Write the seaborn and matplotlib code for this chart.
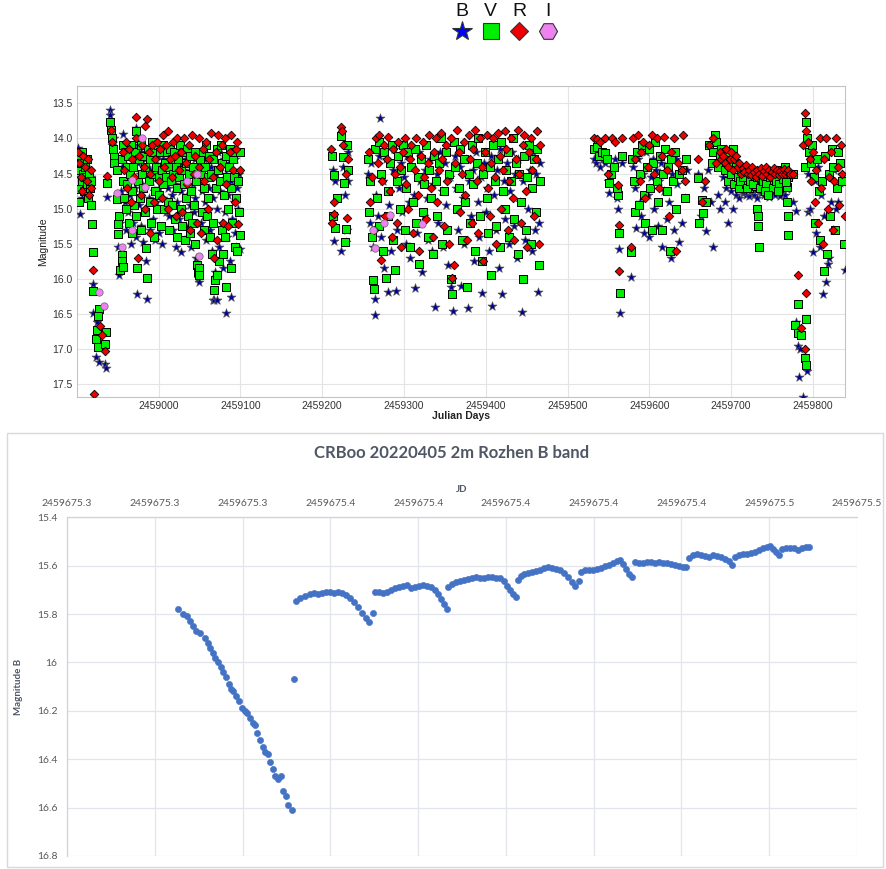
import matplotlib
matplotlib.use("Agg")
import numpy as np
import pandas as pd
import matplotlib.pyplot as plt
import seaborn as sns
from matplotlib.patches import Rectangle
from matplotlib.ticker import FixedLocator, FuncFormatter

## Long-term light curve, JD - 2459000 and magnitude, one list per band and season
JD0 = 2459000

b_s1 = [(-99,14.13),(-98,14.2),(-97,14.45),(-96.5,15.07),(-96,14.7),(-95,14.55),(-94,14.85),(-93,14.62),(-92,14.4),
        (-91,14.3),(-90,14.72),(-89,14.5),(-88,14.33),(-87,14.6),(-86,14.75),(-85,14.45),(-84,14.9),(-83,14.55),
        (-80.4,16.07),(-79.6,16.49),(-74.7,16.61),(-75.5,16.87),(-76.3,17.11),(-72.2,17.18),(-65.3,17.21),(-64.1,17.26),
        (-70,16.95),(-59.2,13.6),(-59,13.66),(-57,14.1),(-63.3,14.83),(-55,14.0),(-48,15.95),(-49,15.54),(-47,15.2),
        (-44,13.94),(-45,14.4),(-46,14.75),(-42,14.3),(-41,14.9),(-40,15.3),(-39,14.6),(-38,14.15),(-37,15.05),(-36,14.45),
        (-35,14.8),(-34,15.5),(-33,14.25),(-32,14.55),(-31,15.2),(-30,14.1),(-29,14.7),(-28,13.85),(-27,15.4),(-26,16.22),
        (-25,14.35),(-24,14.95),(-23,14.5),(-22,15.25),(-21,14.2),(-20,14.65),(-19,15.47),(-18,14.4),(-17,15.0),(-16,14.3),
        (-15,15.75),(-14,16.29),(-13,14.55),(-12,14.85),(-11,15.3),(-10,14.45),(-9,14.6),(-8,14.15),(-7,15.15),(-6,14.75),
        (-5,14.35),(-4,15.45),(-3,14.9),(-2,14.5),(-1,14.25),(0,14.7),(1,15.35),(2,14.4),(3,14.6),(4,15.5),(5,14.3),
        (6,14.85),(7,14.5),(8,14.2),(9,15.05),(10,14.35),(11,14.7),(12,14.4),(13,15.1),(14,14.55),(15,14.25),(16,14.8),
        (17,14.45),(18,15.3),(19,14.3),(20,14.65),(21,15.55),(22,14.4),(23,14.9),(24,14.2),(25,15.15),(26,14.5),(27,15.62),
        (28,14.75),(29,14.35),(30,15.0),(31,14.45),(32,14.6),(33,15.25),(34,14.3),(35,14.8),(36,15.4),(37,14.5),(38,14.2),
        (39,14.95),(40,15.55),(41,14.4),(42,14.65),(43,15.05),(44,14.3),(45,14.85),(46,15.7),(47,14.5),(48,15.98),
        (49,16.05),(50,14.6),(51,14.35),(52,15.2),(53,14.75),(54,14.45),(55,15.1),(56,14.3),(57,14.9),(58,15.45),
        (59,14.55),(60,14.25),(61,15.0),(62,14.7),(63,15.3),(64,14.4),(65,15.6),(66,14.85),(67,16.3),(68,16.3),(69,15.9),
        (70,14.5),(71,16.3),(72,15.0),(73,14.2),(74,15.55),(75,14.75),(76,14.4),(77,15.2),(78,14.6),(79,15.85),(80,14.3),
        (81,15.05),(82,16.48),(83,14.5),(84,15.4),(85,14.8),(86,14.35),(87,15.75),(88,16.25),(89,14.6),(90,15.15),
        (91,14.45),(92,14.9),(93,15.35),(94,14.3),(95,15.55),(96,14.7),(97,15.0),(98,14.5),(99,15.57)]
b_s2 = [(213,14.45),(216,14.6),(215,15.46),(223,15.6),(226,14.4),(228,14.8),(229,15.47),(230,15.3),(231,14.2),(232,14.6),
        (256,14.5),(258,15.2),(260,14.35),(262,15.55),(264,16.28),(265,16.51),(266,14.8),(268,15.1),(270,14.25),(271,13.71),
        (272,15.4),(274,14.6),(276,15.85),(278,14.3),(280,16.19),(282,14.95),(284,15.6),(286,14.45),(288,14.15),(290,16.17),
        (292,15.3),(294,14.7),(296,14.35),(298,15.05),(300,14.55),(302,15.5),(304,14.25),(306,14.9),(308,15.7),(310,14.4),
        (312,14.8),(314,16.13),(316,15.35),(318,14.2),(320,14.6),(322,15.9),(324,15.1),(326,14.45),(328,14.85),(330,15.45),
        (332,14.3),(334,15.6),(336,14.65),(338,16.4),(340,14.5),(342,15.2),(344,14.2),(346,14.75),(348,15.55),(350,14.35),
        (352,14.95),(354,15.8),(356,14.55),(358,16.12),(360,16.45),(362,14.25),(364,14.7),(366,15.3),(368,14.4),(370,16.1),
        (372,14.85),(374,15.5),(376,14.3),(378,16.41),(380,14.6),(382,15.1),(384,14.45),(386,15.75),(388,14.2),(390,14.9),
        (392,15.4),(394,14.55),(396,16.2),(398,14.35),(400,15.05),(402,14.7),(404,15.6),(406,14.25),(408,16.38),(410,14.8),
        (412,15.3),(414,14.45),(416,15.85),(418,14.15),(420,16.22),(422,14.6),(424,15.15),(426,14.35),(428,15.5),(430,14.75),
        (432,14.2),(434,15.25),(436,14.5),(438,15.7),(440,14.3),(442,14.9),(444,16.47),(446,14.6),(448,15.45),(450,14.25),
        (452,15.0),(454,14.45),(456,15.6),(458,14.2),(460,15.3),(462,14.5),(464,16.19),(466,14.35),(465,15.2)]
b_s3 = [(532,14.3),(535,14.35),(537,14.26),(540,14.4),(543,14.3),(546,14.35),(549,14.6),(551,14.77),(554,14.4),(558,14.3),
        (562,15.0),(563,15.58),(563.5,16.48),(560,14.85),(566,14.35),(578,15.97),(580,14.4),(582,14.7),(584,15.28),
        (586,14.3),(588,14.9),(590,15.1),(592,14.5),(594,15.35),(596,14.2),(598,14.8),(600,15.4),(602,14.55),(604,14.3),
        (606,15.0),(608,14.45),(610,15.25),(612,14.6),(614,14.35),(616,15.55),(618,14.75),(620,14.4),(622,15.15),(624,14.9),
        (626,15.7),(628,14.5),(630,15.3),(632,14.3),(634,14.65),(636,15.48),(640,15.2),(643,14.85),(646,14.45),(660,14.5),
        (663,15.1),(667,14.7),(669,15.32),(672,14.45),(675,14.9),(678,15.55),(681,14.2),(684,14.8),(686,15.0),(690,14.55),
        (692,14.9),(694,14.7),(696,15.2),(698,14.5),(700,14.75),(702,15.0),(704,14.65),(706,14.8),(708,14.6),(710,14.85),
        (712,14.72),(714,14.78),(716,14.65),(718,14.8),(720,14.7),(722,14.82),(724,14.75),(726,14.68),(728,14.8),
        (730,14.73),(732,14.85),(734,14.7),(736,14.78),(738,14.65),(740,14.8),(742,14.72),(744,14.76),(746,14.83),
        (748,14.7),(750,14.78),(752,14.66),(754,14.8),(756,14.74),(758,14.7),(760,14.82),(762,14.75),(764,14.68),(766,14.8),
        (768,14.72),(770,14.6),(776,14.9),(779.6,15.03),(779.6,16.61),(781.6,16.96),(782.4,17.39),(783.7,16.99),
        (787.8,17.68),(793,17.31),(793.9,15.05),(794,14.5),(796,15.0),(798,14.3),(800,15.61),(802,14.6),(804,15.35),
        (806,14.4),(808,15.55),(810,14.8),(812.2,16.22),(814,15.1),(816.3,16.04),(818.4,15.78),(820,15.7),(822,14.9),
        (824.5,15.3),(826,14.45),(828,15.0),(830.6,14.9),(832.7,14.64),(835,14.5),(838.8,15.87)]

v_s1 = [(-99,14.3),(-98,14.72),(-97,14.9),(-96,14.45),(-95,14.35),(-94,14.6),(-93,14.2),(-92,14.5),(-91,14.75),(-90,14.4),
        (-89,14.55),(-88,14.3),(-87,14.65),(-86,14.85),(-85,14.5),(-84,14.7),(-83,14.95),(-82,14.6),(-81.6,15.22),
        (-80.4,15.61),(-79.6,16.17),(-72.7,16.43),(-73.5,16.52),(-75.5,16.72),(-76.3,16.85),(-73.5,16.97),(-64.5,16.75),
        (-65.3,16.92),(-59.2,13.76),(-58.4,13.88),(-57.1,14.0),(-56,14.15),(-55,14.26),(-54,14.35),(-51,14.45),
        (-63.3,14.64),(-51.2,14.86),(-47.8,15.11),(-49.8,15.22),(-49,15.36),(-44.5,15.66),(-44.5,15.75),(-46.5,15.87),
        (-43.5,15.83),(-44,14.1),(-45,14.3),(-43,14.6),(-42,14.85),(-41,14.2),(-40,15.0),(-39,14.4),(-38,14.65),(-37,14.25),
        (-36,15.2),(-35,14.5),(-34,14.1),(-33,14.75),(-32,15.35),(-31,14.4),(-30,14.95),(-29,14.2),(-28,13.9),(-27,15.1),
        (-26,15.85),(-25,14.6),(-24,14.3),(-23,14.85),(-22,14.1),(-21,15.3),(-20,14.5),(-19,14.7),(-18,14.25),(-17,15.05),
        (-16,14.4),(-15,15.56),(-14,15.98),(-13,14.15),(-12,14.6),(-11,14.9),(-10,14.3),(-9,15.2),(-8,14.05),(-7,14.5),
        (-6,15.4),(-5,14.2),(-4,14.75),(-3,14.4),(-2,15.0),(-1,14.1),(0,14.55),(1,14.8),(2,14.2),(3,15.25),(4,14.45),
        (5,14.65),(6,14.1),(7,15.0),(8,14.35),(9,14.55),(10,14.2),(11,14.9),(12,14.4),(13,15.3),(14,14.15),(15,14.6),
        (16,14.3),(17,14.95),(18,14.5),(19,14.2),(20,15.15),(21,14.4),(22,14.7),(23,15.4),(24,14.3),(25,14.55),(26,14.1),
        (27,15.0),(28,14.45),(29,15.25),(30,14.2),(31,14.65),(32,15.45),(33,14.35),(34,14.85),(35,14.15),(36,15.1),
        (37,14.5),(38,15.35),(39,14.25),(40,14.75),(41,15.2),(42,14.4),(43,14.95),(44,14.2),(45,15.5),(46,14.6),(47,15.8),
        (48,15.9),(49,15.85),(50,15.95),(51,14.3),(52,14.5),(53,15.05),(54,14.2),(55,14.7),(56,15.3),(57,14.4),(58,14.1),
        (59,15.1),(60,14.55),(61,14.85),(62,14.25),(63,15.4),(64,14.5),(65,15.65),(66,14.3),(67,15.2),(68,16.15),
        (69,16.02),(70,14.7),(71,15.95),(72,14.15),(73,14.45),(74,15.75),(75,14.6),(76,14.1),(77,15.3),(78,14.35),
        (79,15.65),(80,14.8),(81,15.4),(82,16.12),(83,14.25),(84,14.55),(85,15.0),(86,14.4),(87,14.15),(88,15.85),(89,14.7),
        (90,15.2),(91,14.3),(92,14.55),(93,15.55),(94,14.2),(95,14.85),(96,15.6),(97,14.6),(98,15.05),(99,14.2),(100,15.38)]
v_s2 = [(212,14.25),(214,14.52),(213,15.1),(216,15.27),(218,14.85),(223,13.97),(225,14.27),(227,14.64),(229,15.29),
        (228,15.47),(230,14.1),(231,14.45),(256,14.3),(257,15.05),(259,14.6),(261,15.4),(262,16.01),(263,16.14),(265,14.15),
        (267,14.85),(269,15.25),(270,14.05),(272,14.5),(274,15.6),(276,14.2),(278,15.99),(280,14.75),(281,15.1),(283,14.35),
        (285,14.1),(287,15.45),(289,15.87),(291,14.6),(293,14.25),(295,15.0),(297,14.45),(299,14.1),(301,15.3),(303,14.7),
        (305,14.2),(307,15.55),(309,14.4),(311,14.9),(313,14.15),(315,15.2),(317,14.55),(319,15.78),(321,14.3),(323,15.05),
        (325,14.65),(327,14.1),(329,15.4),(331,14.45),(333,14.85),(335,15.65),(337,14.25),(339,14.6),(341,15.1),(343,14.35),
        (345,14.0),(347,15.5),(349,14.75),(351,14.2),(353,15.3),(355,14.5),(357,16.0),(359,16.22),(361,14.05),(363,14.4),
        (365,15.0),(367,14.7),(369,14.15),(371,15.45),(373,14.3),(375,14.9),(377,16.11),(379,14.5),(381,15.2),(383,14.1),
        (385,14.65),(387,15.6),(389,14.35),(391,14.0),(393,15.1),(395,15.75),(397,14.5),(399,14.2),(401,14.85),(403,15.35),
        (405,14.4),(407,15.95),(409,14.1),(411,14.6),(413,15.25),(415,14.3),(417,15.55),(419,14.05),(421,14.75),(423,15.0),
        (425,14.45),(427,14.2),(429,15.4),(431,14.6),(433,14.0),(435,15.15),(437,14.35),(439,15.65),(441,14.5),(443,14.9),
        (445,16.0),(447,14.25),(449,15.3),(451,14.55),(453,14.1),(455,15.5),(457,14.7),(459,14.3),(461,15.05),(463,14.15),
        (465,15.8),(466,14.6)]
v_s3 = [(532,14.15),(536,14.12),(539,14.25),(542,14.2),(546,14.21),(548,14.3),(551,14.64),(553,14.5),(557,14.4),
        (562,14.81),(563,15.35),(563.5,16.2),(561,14.7),(566,14.25),(578,15.62),(579,14.3),(581,14.6),(583,15.05),
        (585,14.2),(587,14.95),(589,14.5),(591,14.1),(593,14.8),(595,15.2),(597,14.4),(599,14.15),(601,14.7),(603,15.3),
        (605,14.35),(607,14.05),(609,14.6),(611,14.9),(613,14.25),(615,15.3),(617,14.5),(619,14.15),(621,14.75),(623,14.4),
        (625,15.6),(627,14.3),(629,14.6),(631,14.2),(633,15.0),(636,14.5),(640,14.45),(643,14.85),(645,14.3),(659,14.57),
        (661,15.2),(664,14.88),(666,15.06),(669,14.9),(673,14.1),(676,14.35),(678,14.2),(680,13.95),(682,14.05),(684,14.4),
        (686,14.25),(688,14.15),(690,14.3),(692,14.45),(694,14.2),(696,14.6),(698,14.35),(700,14.5),(702,14.15),(704,14.65),
        (706,14.4),(708,14.55),(710,14.7),(712,14.45),(714,14.6),(716,14.5),(718,14.65),(720,14.55),(722,14.7),(724,14.48),
        (726,14.62),(728,14.55),(730,14.68),(732,15.0),(732.5,15.1),(733,15.25),(733.5,15.54),(734,14.6),(736,14.5),
        (738,14.65),(740,14.58),(742,14.7),(744,14.52),(746,14.6),(748,14.66),(750,14.5),(752,14.62),(754,14.55),
        (756,14.68),(758,14.45),(760,14.58),(762,14.5),(764,14.65),(766,14.4),(768,14.69),(768.5,14.9),(769,15.1),
        (769.5,15.37),(770,14.55),(711,14.6),(715,14.55),(719,14.7),(723,14.6),(727,14.65),(731,14.55),(735,14.7),
        (739,14.6),(743,14.65),(747,14.55),(751,14.7),(755,14.6),(759,14.65),(763,14.58),(767,14.62),(741,14.75),
        (745,14.8),(757,14.75),
        (776,14.5),(777.6,16.66),(781.6,16.35),(781.6,16.77),(785,16.8),(789.8,17.12),
        (791,17.22),(791.8,16.57),(790,14.4),(792,13.77),(793,14.0),(795,14.2),(797,14.35),(799,14.1),(801,14.55),
        (803,15.2),(805,14.3),(807,14.75),(809,15.45),(811,14.6),(813,15.89),(815,14.25),(817,15.65),(819,14.5),(821,15.1),
        (823,14.15),(825,14.4),(827,15.3),(829,14.7),(831,14.2),(833,14.35),(836,14.6),(838,15.5)]

r_s1 = [(-99,14.2),(-97,14.35),(-95,14.55),(-94,14.75),(-92,14.25),(-90,14.4),(-88,14.6),(-86,14.3),(-85,14.8),(-83,14.45),
        (-82,14.7),(-80.4,15.87),(-71.4,16.67),(-69.4,16.8),(-65.3,17.03),(-78.8,17.63),(-58,13.88),(-56.8,14.05),
        (-63.3,14.53),(-44,14.2),(-42,14.45),(-40,14.05),(-38,14.7),(-36,14.15),(-34,14.9),(-32,14.3),(-30,14.55),
        (-28,13.7),(-27,14.0),(-25.3,15.7),(-24,14.25),(-22,14.8),(-20,14.1),(-18,14.4),(-16,15.0),(-14.3,13.72),
        (-16,13.82),(-12,14.2),(-11,15.35),(-10,14.5),(-8,14.1),(-6,14.9),(-4,14.3),(-2,14.05),(0,14.6),(2,14.15),(4,14.85),
        (5,13.95),(7,14.4),(9,14.1),(11,15.0),(12,13.9),(14,14.3),(16,14.55),(18,14.05),(20,14.25),(21,15.1),(23,14.0),
        (25,14.45),(27,14.2),(29,15.05),(31,14.0),(33,14.35),(35,14.65),(37,14.1),(39,15.3),(41,13.95),(43,14.5),(45,14.25),
        (47,15.2),(49,14.4),(50,14.0),(52,15.35),(54,14.15),(56,14.6),(58,14.05),(60,15.0),(62,14.3),(64,13.92),(66,14.55),
        (68,15.7),(70,14.2),(72,15.45),(73,13.95),(75,14.4),(77,14.1),(79,15.2),(81,14.0),(83,14.65),(85,15.25),(87,14.2),
        (89,13.95),(91,14.45),(93,14.9),(95,14.15),(97,15.22),(99,14.45),(96,14.05)]
r_s2 = [(211,14.15),(214,14.91),(215,15.07),(212,15.2),(223,13.84),(224,13.9),(226,14.1),(229,14.5),(230,15.13),(231,14.3),
        (257,14.2),(259,14.9),(261,14.55),(263,15.3),(266,14.0),(268,14.35),(270,13.95),(272,15.73),(273,14.6),(275,14.1),
        (277,15.1),(279,14.3),(281,13.98),(283,14.75),(285,15.4),(287,14.15),(289,14.5),(291,15.2),(293,14.05),(295,14.4),
        (297,15.55),(299,14.2),(301,14.0),(303,14.65),(305,15.0),(307,14.3),(309,14.1),(311,15.35),(313,14.45),(315,14.0),
        (317,14.8),(319,15.6),(321,14.25),(323,14.05),(325,14.55),(327,15.15),(329,14.35),(331,13.95),(333,14.7),(335,15.4),
        (337,14.2),(339,14.0),(341,14.9),(343,14.45),(345,13.92),(347,14.3),(349,15.25),(351,14.1),(353,14.6),(355,15.5),
        (357,14.0),(359,15.98),(361,15.8),(363,14.35),(365,13.88),(367,14.2),(369,15.05),(371,14.5),(373,14.05),(375,14.8),
        (377,15.45),(379,13.95),(381,14.3),(383,15.2),(385,14.15),(387,13.88),(389,14.6),(391,15.35),(393,14.0),(395,14.4),
        (397,15.75),(399,14.2),(401,13.95),(403,14.7),(405,15.1),(407,14.35),(409,14.0),(411,14.55),(413,15.5),(415,13.92),
        (417,14.25),(419,15.0),(421,14.45),(423,13.9),(425,14.15),(427,15.3),(429,14.6),(431,14.0),(433,14.85),(435,15.45),
        (437,14.3),(439,13.88),(441,14.5),(443,15.2),(445,14.1),(447,13.95),(449,14.75),(451,15.55),(453,14.2),(455,14.0),
        (457,14.45),(459,15.1),(461,14.3),(463,13.9),(465,15.5),(466,14.1)]
r_s3 = [(532,14.0),(536,14.01),(540,14.05),(546,14.0),(550,14.51),(554,14.0),(558,14.05),(562,14.67),(563,15.23),
        (562.5,15.88),(566,14.0),(578,15.55),(580,14.0),(583,14.3),(586,13.95),(588,14.6),(590,14.2),(592,14.05),(595,14.85),
        (598,14.4),(600,14.1),(603,13.95),(606,14.5),(609,14.0),(612,14.7),(615,14.25),(618,13.98),(621,14.45),(624,15.1),
        (627,14.2),(630,14.0),(632,15.6),(635,14.35),(640,14.45),(644,14.6),(641,13.95),(660,14.3),(664,14.9),(668,14.6),
        (673,14.1),(678,14.0),(682,14.35),(686,14.2),(688,14.3),(690,14.25),(692,14.35),(694,14.15),(696,14.4),(698,14.3),
        (700,14.2),(702,14.45),(704,14.3),(706,14.25),(708,14.4),(710,14.35),(712,14.5),(714,14.42),(716,14.48),(718,14.38),
        (720,14.5),(722,14.45),(724,14.52),(726,14.4),(728,14.48),(730,14.55),(732,14.45),(734,14.5),(736,14.42),
        (738,14.53),(740,14.47),(742,14.4),(744,14.5),(746,14.45),(748,14.55),(750,14.48),(752,14.42),(754,14.5),
        (756,14.45),(758,14.52),(760,14.47),(762,14.5),(764,14.44),(766,14.5),(768,14.48),(770,14.45),(772,14.5),
        (776,14.5),(781.6,15.94),(791.8,16.2),(785.7,16.7),(789.8,17.0),(788,14.1),(790,13.64),(792,13.9),(794,14.05),
        (796,14.3),(798,14.6),(800,14.2),(802,14.9),(804,14.45),(806,15.2),(808,14.0),(810,14.7),(812,15.5),(814,14.3),
        (816,14.0),(818,15.0),(820,14.55),(822,14.2),(824,15.3),(826,14.6),(828,14.0),(830,14.4),(832,14.95),(834,14.1),
        (836,14.5),(839,15.1)]

i_all = [(-72.7,16.18),(-66.5,16.38),(-51.2,14.78),(-45,15.55),(-32.7,14.59),(-32.7,15.3),(-20,14.0),(-16,14.69),
         (35,14.6),(47,14.5),(49,15.68),(262,15.3),(265,15.56),(275,15.2),(283,15.09),(322,15.22)]

## One night on the 2m Rozhen telescope, B band: JD - 2459675 and magnitude
NIGHT0 = 2459675
night_fall = [(0.3254,15.78),(0.3265,15.80),(0.3273,15.81),(0.3280,15.83),(0.3288,15.85),(0.3295,15.87),(0.3303,15.88),
              (0.3314,15.90),(0.3322,15.92),(0.3326,15.94),(0.3332,15.96),(0.3337,15.98),(0.3345,16.00),(0.3351,16.02),
              (0.3356,16.04),(0.3362,16.06),(0.3369,16.09),(0.3374,16.11),(0.3379,16.12),(0.3385,16.14),(0.3392,16.16),
              (0.3398,16.19),(0.3406,16.20),(0.3411,16.21),(0.3417,16.23),(0.3423,16.25),(0.3428,16.26),(0.3434,16.29),
              (0.3440,16.32),(0.3446,16.35),(0.3451,16.37),(0.3457,16.38),(0.3462,16.41),(0.3470,16.44),(0.3475,16.47),
              (0.3481,16.48),(0.3487,16.47),(0.3493,16.53),(0.3499,16.55),(0.3504,16.59),(0.3512,16.61),(0.3517,16.07)]
night_high = [(0.3521,15.745),(0.3531,15.733),(0.3542,15.725),(0.3554,15.717),(0.3563,15.713),(0.3572,15.717),
              (0.3581,15.715),(0.3590,15.709),(0.3599,15.709),(0.3608,15.711),(0.3617,15.709),(0.3626,15.713),
              (0.3636,15.721),(0.3645,15.733),(0.3654,15.750),(0.3663,15.771),(0.3672,15.795),(0.3681,15.816),
              (0.3688,15.833),(0.3697,15.795),
              (0.3702,15.709),(0.3711,15.709),(0.3720,15.713),(0.3729,15.709),(0.3738,15.700),(0.3747,15.692),
              (0.3756,15.688),(0.3765,15.684),(0.3775,15.680),(0.3784,15.692),(0.3793,15.688),(0.3802,15.684),
              (0.3811,15.680),(0.3820,15.684),(0.3829,15.688),(0.3838,15.700),(0.3845,15.717),(0.3852,15.738),
              (0.3859,15.758),(0.3866,15.779),
              (0.3868,15.688),(0.3877,15.676),(0.3886,15.667),(0.3895,15.663),(0.3904,15.659),(0.3913,15.655),
              (0.3923,15.651),(0.3932,15.647),(0.3941,15.649),(0.3950,15.651),(0.3959,15.647),(0.3968,15.647),
              (0.3977,15.649),(0.3986,15.651),(0.3995,15.663),(0.4002,15.684),(0.4009,15.700),(0.4016,15.717),
              (0.4023,15.729),
              (0.4027,15.659),(0.4034,15.642),(0.4041,15.634),(0.4050,15.630),(0.4059,15.626),(0.4068,15.622),
              (0.4077,15.618),(0.4086,15.609),(0.4096,15.605),(0.4105,15.609),(0.4114,15.614),(0.4123,15.618),
              (0.4132,15.630),(0.4141,15.647),(0.4150,15.667),(0.4157,15.684),(0.4166,15.663),
              (0.4171,15.626),(0.4180,15.618),(0.4189,15.616),(0.4198,15.616),(0.4207,15.614),(0.4216,15.609),
              (0.4226,15.601),(0.4235,15.597),(0.4244,15.589),(0.4253,15.580),(0.4260,15.576),(0.4267,15.593),
              (0.4273,15.614),(0.4280,15.634),(0.4287,15.647),
              (0.4294,15.585),(0.4303,15.589),(0.4312,15.589),(0.4321,15.585),(0.4330,15.585),(0.4339,15.587),
              (0.4349,15.585),(0.4358,15.589),(0.4367,15.591),(0.4376,15.593),(0.4385,15.597),(0.4394,15.601),
              (0.4403,15.605),(0.4410,15.607),
              (0.4417,15.568),(0.4426,15.556),(0.4435,15.552),(0.4444,15.556),(0.4453,15.560),(0.4462,15.565),
              (0.4472,15.556),(0.4481,15.560),(0.4490,15.565),(0.4499,15.573),(0.4508,15.581),(0.4515,15.597),
              (0.4522,15.564),(0.4531,15.556),(0.4540,15.550),(0.4549,15.552),(0.4558,15.548),(0.4567,15.543),
              (0.4576,15.535),(0.4585,15.529),(0.4595,15.523),(0.4601,15.519),(0.4608,15.531),(0.4615,15.543),
              (0.4622,15.556),(0.4629,15.531),(0.4638,15.527),(0.4647,15.527),(0.4656,15.529),(0.4665,15.535),
              (0.4674,15.527),(0.4683,15.523),(0.4690,15.523)]


def band_frame(rows):
    df = pd.DataFrame(rows, columns=["jd", "mag"])
    df["jd"] = df["jd"] + JD0
    return df

df_b = band_frame(b_s1 + b_s2 + b_s3)
df_v = band_frame(v_s1 + v_s2 + v_s3)
df_r = band_frame(r_s1 + r_s2 + r_s3)
df_i = band_frame(i_all)

night = pd.DataFrame(night_fall + night_high, columns=["jd", "mag"])
night["jd"] = night["jd"] + NIGHT0

sns.set_style("white")
plt.rcParams["font.family"] = ["Liberation Sans", "DejaVu Sans"]

fig = plt.figure(figsize=(8.86, 8.69), dpi=100)

## ---- top: long term light curve ----
ax = fig.add_axes([0.0866, 0.5431, 0.867, 0.3583])
sns.scatterplot(data=df_b, x="jd", y="mag", marker="*", s=46, color="#00009a", edgecolor="#555555",
                linewidth=0.5, ax=ax, zorder=3)
sns.scatterplot(data=df_v, x="jd", y="mag", marker="s", s=29, color="#00ee00", edgecolor="black",
                linewidth=0.7, ax=ax, zorder=4)
sns.scatterplot(data=df_r, x="jd", y="mag", marker="D", s=19, color="#ee0000", edgecolor="black",
                linewidth=0.6, ax=ax, zorder=5)
sns.scatterplot(data=df_i, x="jd", y="mag", marker="o", s=28, color="#ee82ee", edgecolor="#666666",
                linewidth=0.5, ax=ax, zorder=6)

ax.set_xlim(JD0 - 100, JD0 + 839)
ax.set_ylim(17.68, 13.25)
ax.xaxis.set_major_locator(FixedLocator(np.arange(JD0, JD0 + 801, 100)))
ax.xaxis.set_major_formatter(FuncFormatter(lambda v, p: "%d" % round(v)))
ax.yaxis.set_major_locator(FixedLocator(np.arange(13.5, 17.51, 0.5)))
ax.yaxis.set_major_formatter(FuncFormatter(lambda v, p: "%.1f" % v))
ax.grid(True, color="#e4e4e4", linewidth=0.8)
ax.set_axisbelow(True)
for sp in ax.spines.values():
    sp.set_color("#c4c4c4")
    sp.set_linewidth(0.8)
ax.tick_params(length=0, labelsize=7.5, colors="#333333", pad=3)
ax.set_xlabel("Julian Days", fontsize=7.5, fontweight="bold", labelpad=0, color="#222222")
ax.set_ylabel("Magnitude", fontsize=7.5, labelpad=3, color="#222222")

## legend row above the chart
lax = fig.add_axes([447.6 / 886, 1 - 44 / 869, 114.8 / 886, 44 / 869])
lax.set_xlim(0, 4)
lax.set_ylim(0, 1)
lax.axis("off")
legend_items = [("B", "*", "#0000ff", 15), ("V", "s", "#00ee00", 12), ("R", "D", "#ee0000", 9.5), ("I", "H", "#ee82ee", 13)]
for k, (lab, mk, col, ms) in enumerate(legend_items):
    lax.plot(k + 0.5, 0.3, marker=mk, markersize=ms, color=col, markeredgecolor="#333333", markeredgewidth=0.8)
    lax.text(k + 0.5, 0.74, lab, ha="center", va="center", fontsize=14, color="#111111")

## ---- bottom: single night B band ----
fig.add_artist(Rectangle((7 / 886, 2 / 869), 876 / 886, 434 / 869, transform=fig.transFigure,
                         fill=False, edgecolor="#d9d9d9", linewidth=1))
fig.text(451.7 / 886, 1 - 453 / 869, "CRBoo 20220405 2m Rozhen B band", ha="center", va="center",
         fontsize=12, fontweight="bold", color="#4f5766", family=["Lato", "DejaVu Sans"])

ax2 = fig.add_axes([0.0756, 0.01496, 0.8917, 0.3898])
sns.scatterplot(data=night, x="jd", y="mag", s=20, color="#4472c4", edgecolor="#4472c4", linewidth=0.4,
                ax=ax2, zorder=3)
ax2.set_xlim(NIGHT0 + 0.30, NIGHT0 + 0.48)
ax2.set_ylim(16.8, 15.4)
ax2.xaxis.tick_top()
ax2.xaxis.set_label_position("top")
ax2.xaxis.set_major_locator(FixedLocator(NIGHT0 + np.arange(0.30, 0.481, 0.02)))
ax2.xaxis.set_major_formatter(FuncFormatter(lambda v, p: "%.1f" % v))
ax2.yaxis.set_major_locator(FixedLocator(np.arange(15.4, 16.81, 0.2)))
ax2.yaxis.set_major_formatter(FuncFormatter(lambda v, p: ("%.1f" % v).rstrip("0").rstrip(".")))
ax2.grid(True, color="#e3e5ec", linewidth=0.9)
ax2.set_axisbelow(True)
for name, sp in ax2.spines.items():
    sp.set_visible(name in ("left", "top"))
    sp.set_color("#d0d3da")
    sp.set_linewidth(0.9)
ax2.tick_params(length=0, labelsize=7.5, colors="#595959", pad=7)
for t in ax2.get_xticklabels() + ax2.get_yticklabels():
    t.set_family(["Lato", "DejaVu Sans"])
ax2.set_xlabel("JD", fontsize=7, fontweight="bold", color="#4f5766", labelpad=5, family=["Lato", "DejaVu Sans"])
ax2.set_ylabel("Magnitude B", fontsize=7, fontweight="bold", color="#4f5766", labelpad=10,
               family=["Lato", "DejaVu Sans"])

fig.savefig("out.png", dpi=100)
